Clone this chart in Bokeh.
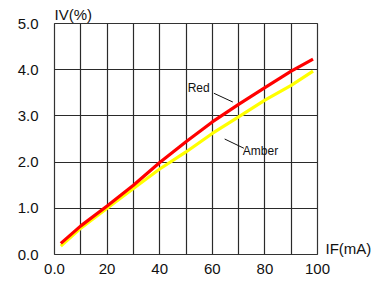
from bokeh.plotting import figure
from bokeh.models import FixedTicker, Label, Range1d, LinearAxis, Title
from bokeh.embed import file_html
from bokeh.resources import INLINE

# Data
if_red = [2.4, 10, 20, 30, 40, 50, 60, 70, 80, 90, 98.3]
iv_red = [0.24, 0.62, 1.05, 1.50, 1.99, 2.44, 2.87, 3.25, 3.61, 3.97, 4.23]
if_amber = [2.4, 10, 20, 30, 40, 50, 60, 70, 80, 90, 98.3]
iv_amber = [0.18, 0.57, 1.00, 1.43, 1.85, 2.22, 2.62, 2.98, 3.34, 3.66, 3.97]

x_ticks = [0, 20, 40, 60, 80, 100]
x_tick_labels = {0: "0.0", 20: "20", 40: "40", 60: "60", 80: "80", 100: "100"}
y_ticks = [0, 1, 2, 3, 4, 5]
y_tick_labels = {0: "0.0", 1: "1.0", 2: "2.0", 3: "3.0", 4: "4.0", 5: "5.0"}
x_title = "IF(mA)"
x_title_pos = 0.14  # IV level at which the x title sits, right of the frame
y_title = "IV(%)"

# annotation anchors (data units)
red_label = ("Red", 59.0, 3.60)
red_leader = ([60.6, 67.8], [3.49, 3.30])
amber_label = ("Amber", 71.6, 2.24)
amber_leader = ([64.7, 72.0], [2.50, 2.30])

FONT = "Liberation Sans"
TXT = "#111111"

p = figure(width=377, height=282, output_backend="svg", toolbar_location=None,
           x_range=Range1d(0, 100), y_range=Range1d(0, 5),
           min_border_left=54, min_border_right=60, min_border_top=23, min_border_bottom=28)
p.background_fill_color = "white"
p.border_fill_color = "white"
p.outline_line_color = "#333333"
p.outline_line_width = 1.2

p.xaxis.ticker = FixedTicker(ticks=x_ticks)
p.yaxis.ticker = FixedTicker(ticks=y_ticks)
p.xaxis.major_label_overrides = x_tick_labels
p.yaxis.major_label_overrides = y_tick_labels

right_axis = LinearAxis(ticker=FixedTicker(ticks=[x_title_pos]),
                        major_label_overrides={x_title_pos: x_title})
p.add_layout(right_axis, "right")

for ax in (p.xaxis[0], p.yaxis[0], right_axis):
    ax.axis_line_color = None
    ax.major_tick_line_color = None
    ax.minor_tick_line_color = None
    ax.major_tick_out = 0
    ax.major_tick_in = 0
    ax.minor_tick_out = 0
    ax.minor_tick_in = 0
    ax.major_label_text_font = FONT
    ax.major_label_text_font_size = "15px"
    ax.major_label_text_color = TXT
p.xaxis[0].major_label_standoff = 9
p.yaxis[0].major_label_standoff = 16
right_axis.major_label_standoff = 8

p.add_layout(Title(text=y_title, align="left", text_font=FONT, text_font_size="15px",
                   text_font_style="normal", text_color=TXT, standoff=2), "above")

p.xgrid.ticker = FixedTicker(ticks=list(range(0, 101, 10)))
p.ygrid.ticker = FixedTicker(ticks=y_ticks)
p.xgrid.grid_line_color = "#2a2a2a"
p.ygrid.grid_line_color = "#2a2a2a"
p.xgrid.grid_line_width = 1.2
p.ygrid.grid_line_width = 1.2

p.line(if_amber, iv_amber, line_color="#ffff00", line_width=3.2)
p.line(if_red, iv_red, line_color="#ff0000", line_width=3.2)

p.line(red_leader[0], red_leader[1], line_color=TXT, line_width=1)
p.line(amber_leader[0], amber_leader[1], line_color=TXT, line_width=1)

p.add_layout(Label(x=red_label[1], y=red_label[2], text=red_label[0], text_align="right",
                   text_baseline="middle", text_font=FONT, text_font_size="12px", text_color=TXT))
p.add_layout(Label(x=amber_label[1], y=amber_label[2], text=amber_label[0], text_align="left",
                   text_baseline="middle", text_font=FONT, text_font_size="12px", text_color=TXT))

open("out.html", "w").write(file_html(p, INLINE))
